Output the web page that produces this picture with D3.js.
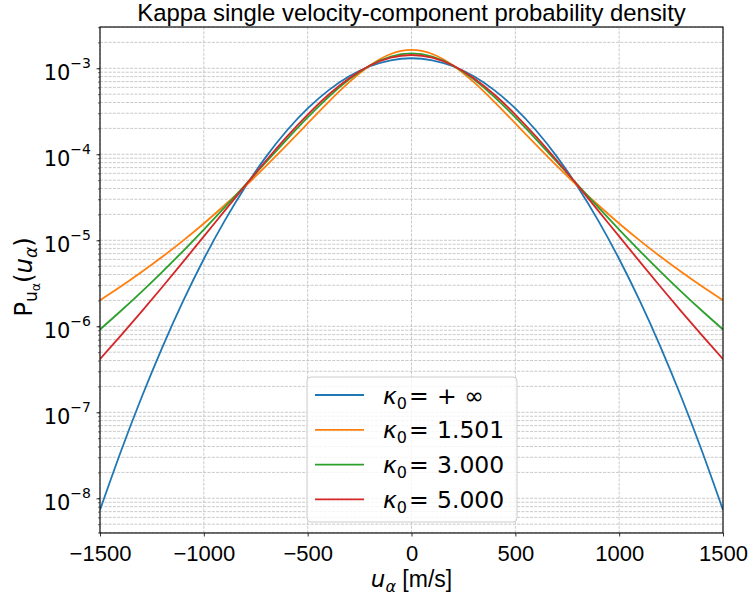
<!DOCTYPE html>
<html>
<head>
<meta charset="utf-8">
<script src="https://cdn.jsdelivr.net/npm/d3@7"></script>
<style>
  body { margin: 0; background: #fff; }
  svg text { fill: #000; }
</style>
</head>
<body>
<div id="chart"></div>
<script>
// velocity grid [m/s]
var uVals = [-1500, -1400, -1300, -1200, -1100, -1000, -900, -800, -700, -600, -500, -400, -300, -200, -100,
             0, 100, 200, 300, 400, 500, 600, 700, 800, 900, 1000, 1100, 1200, 1300, 1400, 1500];

// densities, one list per kappa
var pMaxwell = [7.319e-9, 3.479e-8, 1.485e-7, 5.692e-7, 1.959e-6, 6.058e-6, 1.682e-5, 4.194e-5, 9.393e-5, 1.889e-4, 3.412e-4, 5.535e-4, 8.063e-4, 1.0550e-3, 1.2396e-3,
                1.308e-3, 1.2396e-3, 1.0550e-3, 8.063e-4, 5.535e-4, 3.412e-4, 1.889e-4, 9.393e-5, 4.194e-5, 1.682e-5, 6.058e-6, 1.959e-6, 5.692e-7, 1.485e-7, 3.479e-8, 7.319e-9];
var pK1501 = [2.007e-6, 2.898e-6, 4.269e-6, 6.429e-6, 9.917e-6, 1.5696e-5, 2.5524e-5, 4.267e-5, 7.326e-5, 1.2861e-4, 2.2872e-4, 4.045e-4, 6.892e-4, 1.0793e-3, 1.4646e-3,
              1.6334e-3, 1.4646e-3, 1.0793e-3, 6.892e-4, 4.045e-4, 2.2872e-4, 1.2861e-4, 7.326e-5, 4.267e-5, 2.5524e-5, 1.5696e-5, 9.917e-6, 6.429e-6, 4.269e-6, 2.898e-6, 2.007e-6];
var pK3 = [9.185e-7, 1.5058e-6, 2.5184e-6, 4.300e-6, 7.496e-6, 1.3325e-5, 2.4099e-5, 4.416e-5, 8.142e-5, 1.4942e-4, 2.6864e-4, 4.630e-4, 7.438e-4, 1.0791e-3, 1.3705e-3,
           1.4884e-3, 1.3705e-3, 1.0791e-3, 7.438e-4, 4.630e-4, 2.6864e-4, 1.4942e-4, 8.142e-5, 4.416e-5, 2.4099e-5, 1.3325e-5, 7.496e-6, 4.300e-6, 2.5184e-6, 1.5058e-6, 9.185e-7];
var pK5 = [4.146e-7, 7.772e-7, 1.4807e-6, 2.8643e-6, 5.612e-6, 1.1089e-5, 2.2001e-5, 4.3454e-5, 8.459e-5, 1.6014e-4, 2.8999e-4, 4.925e-4, 7.679e-4, 1.0755e-3, 1.3279e-3,
           1.4267e-3, 1.3279e-3, 1.0755e-3, 7.679e-4, 4.925e-4, 2.8999e-4, 1.6014e-4, 8.459e-5, 4.3454e-5, 2.2001e-5, 1.1089e-5, 5.612e-6, 2.8643e-6, 1.4807e-6, 7.772e-7, 4.146e-7];

var seriesLabels = ["+ \u221E", "1.501", "3.000", "5.000"];
var seriesColors = ["#1f77b4", "#ff7f0e", "#2ca02c", "#d62728"];
var xTicks = [-1500, -1000, -500, 0, 500, 1000, 1500];
var yExps = [-8, -7, -6, -5, -4, -3];

var series = [pMaxwell, pK1501, pK3, pK5].map(function(vals, i) {
    return { label: seriesLabels[i], color: seriesColors[i],
             pts: uVals.map(function(u, j) { return [u, vals[j]]; }) };
});

var W = 751, H = 601;
var pLeft = 100, pRight = 723, pTop = 27, pBottom = 533;
var textFont = "Liberation Sans, Arial, sans-serif";
var mathFont = "DejaVu Sans, sans-serif";

var svg = d3.select("#chart").append("svg")
    .attr("width", W).attr("height", H)
    .attr("font-family", textFont);

var xScale = d3.scaleLinear().domain([-1500, 1500]).range([pLeft, pRight]);
var yScale = d3.scaleLog().domain([3.95e-9, 3.02e-3]).range([pBottom, pTop]);

// minor + major log positions inside the domain
var yGridVals = [];
for (var e = -9; e <= -3; e++) {
    for (var m = 1; m <= 9; m++) {
        var v = m * Math.pow(10, e);
        if (v >= 3.95e-9 && v <= 3.02e-3) yGridVals.push(v);
    }
}

var grid = svg.append("g").attr("id", "grid")
    .attr("stroke", "#bdbdbd").attr("stroke-width", 0.8).attr("stroke-dasharray", "3,1.3");
grid.selectAll("line.h").data(yGridVals).enter().append("line")
    .attr("x1", pLeft).attr("x2", pRight)
    .attr("y1", function(d) { return yScale(d); })
    .attr("y2", function(d) { return yScale(d); });
grid.selectAll("line.v").data(xTicks).enter().append("line")
    .attr("x1", function(d) { return xScale(d); })
    .attr("x2", function(d) { return xScale(d); })
    .attr("y1", pTop).attr("y2", pBottom);

svg.append("clipPath").attr("id", "plotclip")
    .append("rect").attr("x", pLeft).attr("y", pTop)
    .attr("width", pRight - pLeft).attr("height", pBottom - pTop);

var line = d3.line()
    .x(function(d) { return xScale(d[0]); })
    .y(function(d) { return yScale(d[1]); })
    .curve(d3.curveNatural);

svg.append("g").attr("clip-path", "url(#plotclip)")
    .selectAll("path")
    .data(series)
    .enter()
    .append("path")
    .attr("d", function(d) { return line(d.pts); })
    .attr("fill", "none")
    .attr("stroke", function(d) { return d.color; })
    .attr("stroke-width", 1.8);

// axes
var xAxis = d3.axisBottom(xScale).tickValues(xTicks).tickSizeInner(3.5).tickSizeOuter(0)
    .tickFormat(function(d) { return d < 0 ? "\u2212" + Math.abs(d) : String(d); });
var gx = svg.append("g").attr("transform", "translate(0," + pBottom + ")").call(xAxis);
gx.select(".domain").remove();
gx.selectAll(".tick line").attr("stroke", "#000").attr("stroke-width", 0.8);
gx.selectAll(".tick text")
    .attr("font-family", textFont)
    .attr("font-size", 22).attr("dy", null).attr("y", 28);

var yAxisMinor = d3.axisLeft(yScale).tickValues(yGridVals).tickSizeInner(2).tickSizeOuter(0).tickFormat("");
var gym = svg.append("g").attr("transform", "translate(" + pLeft + ",0)").call(yAxisMinor);
gym.select(".domain").remove();
gym.selectAll(".tick line").attr("stroke", "#000").attr("stroke-width", 0.6);

var yMajor = yExps.map(function(e) { return Math.pow(10, e); });
var yAxis = d3.axisLeft(yScale).tickValues(yMajor).tickSizeInner(3.5).tickSizeOuter(0).tickFormat("");
var gy = svg.append("g").attr("transform", "translate(" + pLeft + ",0)").call(yAxis);
gy.select(".domain").remove();
gy.selectAll(".tick line").attr("stroke", "#000").attr("stroke-width", 0.8);

var ylab = svg.append("g").selectAll("text").data(yExps).enter().append("text")
    .attr("x", 91)
    .attr("y", function(d) { return yScale(Math.pow(10, d)) + 12; })
    .attr("text-anchor", "end")
    .attr("font-family", mathFont)
    .attr("font-size", 21);
ylab.append("tspan").text("10");
ylab.append("tspan").attr("dy", -12.5).attr("font-size", 14)
    .text(function(d) { return "\u2212" + Math.abs(d); });

// frame
svg.append("rect").attr("x", pLeft).attr("y", pTop)
    .attr("width", pRight - pLeft).attr("height", pBottom - pTop)
    .attr("fill", "none").attr("stroke", "#111").attr("stroke-width", 1.2);

// title and labels
svg.append("text").attr("x", (pLeft + pRight) / 2).attr("y", 21)
    .attr("text-anchor", "middle").attr("font-size", 23.9)
    .text("Kappa single velocity-component probability density");

var xl = svg.append("text").attr("x", (pLeft + pRight) / 2).attr("y", 587)
    .attr("text-anchor", "middle").attr("font-size", 23);
xl.append("tspan").attr("font-style", "italic").attr("font-family", mathFont).text("u");
xl.append("tspan").attr("font-style", "italic").attr("font-family", mathFont)
    .attr("font-size", 16).attr("dy", 5).text("\u03B1");
xl.append("tspan").attr("dy", -5).text(" [m/s]");

var yl = svg.append("text")
    .attr("transform", "translate(32," + ((pTop + pBottom) / 2 - 3) + ") rotate(-90)")
    .attr("text-anchor", "middle").attr("font-size", 24.5).attr("font-family", mathFont);
yl.append("tspan").text("P");
yl.append("tspan").attr("font-size", 17).attr("dy", 5).text("u");
yl.append("tspan").attr("font-size", 12.5).attr("dy", 3).text("\u03B1");
yl.append("tspan").attr("dy", -8).text("(");
yl.append("tspan").attr("font-style", "italic").text("u");
yl.append("tspan").attr("font-style", "italic").attr("font-size", 17).attr("dy", 5).text("\u03B1");
yl.append("tspan").attr("dy", -5).text(")");

// legend
var legend = svg.append("g").attr("transform", "translate(307,377)");
legend.append("rect").attr("width", 210).attr("height", 145).attr("rx", 4)
    .attr("fill", "#fff").attr("fill-opacity", 0.8)
    .attr("stroke", "#cccccc").attr("stroke-width", 1);
var items = legend.selectAll("g.item").data(series).enter().append("g")
    .attr("transform", function(d, i) { return "translate(0," + (18 + i * 34.8) + ")"; });
items.append("line").attr("x1", 8).attr("x2", 57)
    .attr("stroke", function(d) { return d.color; }).attr("stroke-width", 1.8);
var lt = items.append("text").attr("y", 8.5).attr("font-size", 23.5).attr("font-family", mathFont);
lt.append("tspan").attr("x", 76).attr("font-style", "italic").text("\u03BA");
lt.append("tspan").attr("font-size", 16).attr("dy", 5).text("0");
lt.append("tspan").attr("x", 102).attr("dy", -5).text("=");
lt.append("tspan").attr("x", 130).text(function(d) { return d.label; });
</script>
</body>
</html>
